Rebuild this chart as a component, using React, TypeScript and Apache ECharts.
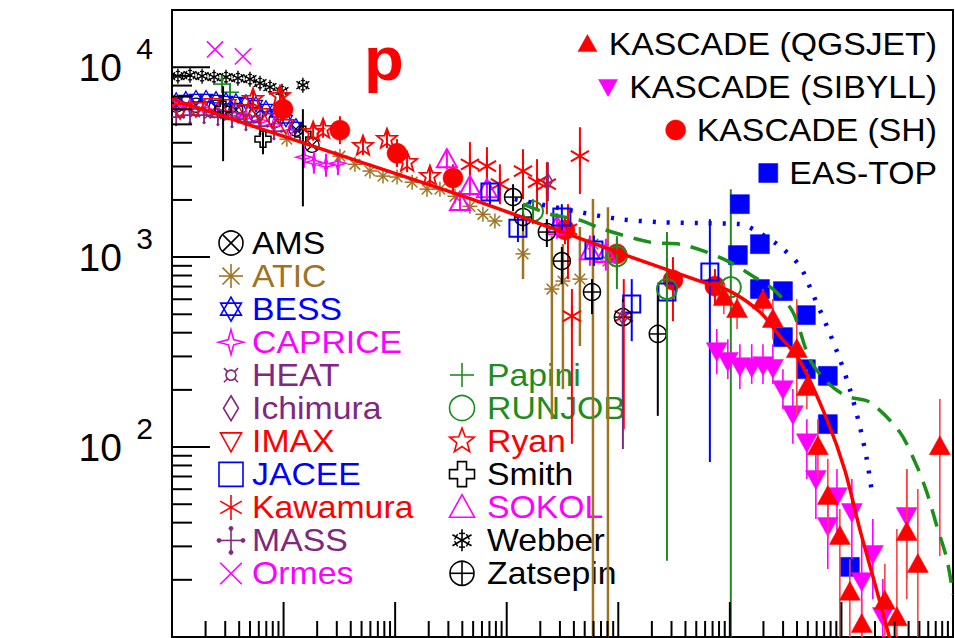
import React, { useEffect, useRef } from 'react';
import * as echarts from 'echarts';

const X_MIN = 10;
const X_MAX = 1e8;
const Y_MIN = 10;
const Y_MAX = 20000;
const FONT = '"Liberation Sans", Arial, Helvetica, sans-serif';

type Pt = number[]; // [E (GeV), flux*E^2.5, lower, upper]

const webber: Pt[] = [[11.3, 8970], [14.5, 9080], [18.6, 8970], [23.8, 8860], [30.5, 8860], [39.0, 8750], [50, 8650], [61.5, 8240], [75.5, 7850], [96.8, 7480], [149, 8040]];
const ormes: Pt[] = [[24.3, 12400], [43.3, 11400]];
const papini: Pt[] = [[28.1, 8150, 7300, 9000], [33.1, 7380, 6600, 8200]];
const ams: Pt[] = [[10.9, 6310], [16.4, 6310], [24.8, 6150], [37.4, 5940], [56.6, 5660], [85.5, 5260], [129, 4720], [180, 3880]];
const bess: Pt[] = [[10.9, 6700], [13.3, 6790], [16.4, 6880], [20.2, 6880], [24.8, 6790], [30.5, 6700], [37.4, 6620], [46.0, 6540], [56.6, 6380], [69.5, 6080], [85.5, 5720], [105, 5320], [129, 4890]];
const caprice: Pt[] = [[10.9, 6150], [14.5, 6150], [19.4, 6010], [25.8, 5860], [34.5, 5660], [46.0, 5460], [61.5, 5200], [82.0, 4950], [114, 4600], [152, 3360, 2950, 3800], [187, 3160, 2750, 3600], [240, 3050, 2650, 3500], [307, 3120, 2700, 3550]];
const heat: Pt[] = [[11.8, 5800], [16.1, 5800], [21.9, 5720], [29.9, 5660], [40.7, 5520], [55.5, 5320]];
const mass: Pt[] = [[10.9, 5460], [14.5, 5590], [19.4, 5590], [25.8, 5460], [34.5, 5320], [46.0, 5140], [61.5, 4890], [82.0, 4600]];
const imax: Pt[] = [[11.8, 5860], [16.4, 6010], [22.8, 6310], [31.8, 6230], [46.0, 5860], [61.5, 5590], [78.7, 5260], [105, 4890]];
const smith: Pt[] = [[28.7, 6010, 3200, 7940], [65.4, 4180, 3480, 4550], [149, 4440, 1850, 6010]];
const ryan: Pt[] = [[53.2, 6790, 6100, 7500], [92.9, 7030, 6300, 7800], [184, 4550, 4100, 5050], [226, 4720, 4250, 5250], [515, 3840, 3450, 4250], [845, 4180, 3750, 4650], [1280, 3160, 2800, 3550], [2051, 2670, 2350, 3000]];
const kascadeSH: Pt[] = [[98.9, 6010, 5200, 7210], [320, 4660, 3930, 5520], [1040, 3520, 2980, 4180], [3300, 2610, 2150, 3080], [3.33e4, 1390, 1170, 1620], [9.72e4, 1040, 844, 1245], [3.09e5, 757, 460, 1000], [7.35e5, 703, 566, 865]];
const atic: Pt[] = [[107, 4180], [320, 3400], [436, 3080], [595, 2840], [778, 2670], [1040, 2640], [1420, 2480], [1930, 2280], [2520, 2280], [3440, 2090], [4680, 1850], [6120, 1680], [7840, 1550], [1.40e4, 1040, 766, 1585], [2.54e4, 679, 140, 1290], [3.19e4, 748, 202, 1170], [4.53e4, 766, 340, 1440], [5.93e4, 1170, 5, 2020], [8.08e4, 953, 5, 1830]];
const kawamura: Pt[] = [[4680, 3080, 2280, 4030], [6650, 3010, 2280, 3790], [8690, 2420, 1900, 3080], [1.40e4, 2840, 2020, 3700], [1.87e4, 2480, 1790, 3280], [2.29e4, 2420, 1680, 3160], [3.54e4, 1400, 766, 1900], [4.53e4, 3400, 2150, 4830], [3.84e4, 489, 104, 679], [1.12e5, 489, 124, 766]];
const sokol: Pt[] = [[2910, 3280, 2900, 3700], [4680, 2370, 2100, 2650], [3810, 1950, 1750, 2200], [6650, 2280, 2000, 2600], [2.82e4, 1455, 1250, 1700], [5.57e4, 1075, 900, 1300], [7.74e4, 1040, 850, 1250]];
const jacee: Pt[] = [[7070, 2200, 1900, 2500], [1.26e4, 1420, 1200, 1650], [3.12e4, 1625, 1350, 1900], [6.05e4, 1090, 900, 1300], [1.32e5, 566, 361, 766], [2.73e5, 655, 290, 976], [6.62e5, 834, 83.4, 1585]];
const zatsepin: Pt[] = [[1.14e4, 2070, 1745, 2420], [1.40e4, 1625, 1370, 1900], [2.29e4, 1355, 1130, 1585], [3.12e4, 953, 720, 1130], [5.81e4, 655, 501, 766], [1.10e5, 483, 158, 601], [2.26e5, 394, 146, 655]];
const runjob: Pt[] = [[1.72e4, 1745, 1490, 2020], [9.72e4, 1010, 679, 1290], [2.73e5, 679, 25.2, 1355], [1.02e6, 695, 5, 2280]];
const ichimura: Pt[] = [[2.34e4, 2510, 1970, 3160], [1.10e5, 483, 97.6, 580]];
const easTop: Pt[] = [[1.23e6, 1900], [1.86e6, 1170], [1.18e6, 1025], [1.86e6, 679], [2.99e6, 662], [4.80e6, 495], [2.99e6, 379], [4.80e6, 257], [7.55e6, 237], [7.55e6, 132], [1.19e7, 23.4]];
const kascadeSibyll: Pt[] = [[7.64e5, 320, 242, 418], [9.59e5, 284, 228, 370], [1.23e6, 267, 202, 348], [1.57e6, 264, 215, 348], [1.98e6, 270, 215, 348], [2.43e6, 261, 215, 348], [2.99e6, 202, 158, 257], [3.67e6, 149, 104, 202], [4.90e6, 106, 67.9, 140], [5.90e6, 67.9, 41.8, 97.6], [7.55e6, 38.4, 22.8, 60.1], [9.12e6, 55.2, 32.8, 76.6], [1.24e7, 45.5, 25.7, 67.9], [1.52e7, 19.7, 5, 32.8], [1.91e7, 27.4, 15.8, 41.8], [2.35e7, 12.9, 5, 20.2], [3.85e7, 43.4, 20.2, 76.6]];
const kascadeQgsjet: Pt[] = [[8.83e5, 615, 501, 721], [1.16e6, 532, 418, 639], [1.98e6, 594, 501, 679], [2.43e6, 472, 370, 601], [3.98e6, 328, 146, 601], [4.90e6, 207, 158, 257], [6.15e6, 101, 67.9, 140], [7.55e6, 55.2, 32.8, 86.5], [9.68e6, 34.0, 9.7, 47.2], [1.19e7, 17.3, 5, 25.7], [1.52e7, 11.7, 5, 15.8], [2.45e7, 15.5, 5, 24.3], [3.14e7, 12.7, 5, 37.0], [3.85e7, 35.7, 15.8, 76.6], [4.84e7, 24.2, 5, 60.1], [7.62e7, 101, 26.7, 179]];

const polyGonato: Pt[] = [[10, 6790], [320, 3440], [5750, 1950], [1.03e5, 1050], [5.38e5, 748], [1e6, 662], [1.86e6, 514], [2.8e6, 384], [4.24e6, 284], [7.4e6, 140], [1.07e7, 76], [1.46e7, 37], [2.0e7, 19], [2.72e7, 9.75]];
const modelDotted: Pt[] = [[1.18e4, 2020], [4.53e4, 1725], [1.03e5, 1585], [2.36e5, 1528], [5.38e5, 1510], [1.23e6, 1492], [1.86e6, 1337], [2.8e6, 1142], [4.24e6, 897], [5.54e6, 639], [7.4e6, 433], [9.68e6, 290], [1.19e7, 202], [1.46e7, 129], [1.69e7, 86], [1.87e7, 58.6]];
const modelDashed: Pt[] = [[1.40e4, 1901], [2.44e4, 1683], [4.53e4, 1566], [7.28e4, 1403], [1.92e5, 1199], [3.56e5, 1170], [6.22e5, 1062], [1e6, 941], [1.61e6, 794], [2.43e6, 679], [3.67e6, 514], [5.21e6, 290], [7.4e6, 220], [1.12e7, 185], [1.8e7, 172], [3.33e7, 120], [4.74e7, 79.4], [5.82e7, 57.9], [7.16e7, 38.4], [8.8e7, 25.8], [1e8, 16.8]];

const legendLeft = ['AMS', 'ATIC', 'BESS', 'CAPRICE', 'HEAT', 'Ichimura', 'IMAX', 'JACEE', 'Kawamura', 'MASS', 'Ormes'];
const legendMid = ['Papini', 'RUNJOB', 'Ryan', 'Smith', 'SOKOL', 'Webber', 'Zatsepin'];
const legendRight = ['KASCADE (QGSJET)', 'KASCADE (SIBYLL)', 'KASCADE (SH)', 'EAS-TOP'];

const COL = {
  black: '#000000', brown: '#9C7424', blue: '#0000FF', magenta: '#FF00FF',
  purple: '#80287F', red: '#FF0000', green: '#1E8C1E',
};

interface Exp { name: string; data: Pt[]; kind: string; color: string; size: number; lw: number; legSize: number; bar?: string; barW?: number }

const experiments: Exp[] = [
  { name: 'Webber', data: webber, kind: 'snow', color: COL.black, size: 15, lw: 1.4, legSize: 22 },
  { name: 'Ormes', data: ormes, kind: 'x', color: COL.magenta, size: 18, lw: 1.6, legSize: 24 },
  { name: 'Papini', data: papini, kind: 'plus', color: COL.green, size: 18, lw: 1.6, legSize: 24 },
  { name: 'AMS', data: ams, kind: 'circx', color: COL.black, size: 14, lw: 1.3, legSize: 24 },
  { name: 'BESS', data: bess, kind: 'hexagram', color: COL.blue, size: 15, lw: 1.3, legSize: 24 },
  { name: 'CAPRICE', data: caprice, kind: 'star4', color: COL.magenta, size: 16, lw: 1.4, legSize: 25 },
  { name: 'HEAT', data: heat, kind: 'currency', color: COL.purple, size: 14, lw: 1.6, legSize: 20 },
  { name: 'MASS', data: mass, kind: 'cross4', color: COL.purple, size: 15, lw: 1.8, legSize: 24 },
  { name: 'IMAX', data: imax, kind: 'tridown', color: COL.red, size: 16, lw: 1.5, legSize: 21 },
  { name: 'Smith', data: smith, kind: 'greek', color: COL.black, size: 16, lw: 1.5, legSize: 25 },
  { name: 'Ryan', data: ryan, kind: 'star5', color: COL.red, size: 21, lw: 1.8, legSize: 26 },
  { name: 'KASCADE (SH)', data: kascadeSH, kind: 'circleF', color: COL.red, size: 20, lw: 1, legSize: 20 },
  { name: 'ATIC', data: atic, kind: 'ast8', color: COL.brown, size: 15, lw: 1.5, legSize: 24, barW: 2.5 },
  { name: 'Kawamura', data: kawamura, kind: 'ast6', color: COL.red, size: 21, lw: 2, legSize: 25 },
  { name: 'SOKOL', data: sokol, kind: 'triup', color: COL.magenta, size: 20, lw: 2, legSize: 25 },
  { name: 'JACEE', data: jacee, kind: 'square', color: COL.blue, size: 17, lw: 2, legSize: 24 },
  { name: 'Zatsepin', data: zatsepin, kind: 'circplus', color: COL.black, size: 17, lw: 1.5, legSize: 24 },
  { name: 'RUNJOB', data: runjob, kind: 'circle', color: COL.green, size: 20, lw: 2, legSize: 25 },
  { name: 'Ichimura', data: ichimura, kind: 'diamond', color: COL.purple, size: 15, lw: 1.5, legSize: 25 },
  { name: 'EAS-TOP', data: easTop, kind: 'squareF', color: COL.blue, size: 19, lw: 1, legSize: 19 },
  { name: 'KASCADE (SIBYLL)', data: kascadeSibyll, kind: 'tridownF', color: COL.magenta, size: 21, lw: 1, legSize: 19, barW: 1.6 },
  { name: 'KASCADE (QGSJET)', data: kascadeQgsjet, kind: 'triupF', color: COL.red, size: 21, lw: 1, legSize: 19, bar: '#FF4040', barW: 1.6 },
];

function iconShapes(kind: string, cx: number, cy: number, s: number, c: string, lw: number): any[] {
  const r = s / 2;
  const st = { stroke: c, lineWidth: lw, fill: 'none' };
  const fl = { fill: c, stroke: c, lineWidth: 0.5 };
  const L = (x1: number, y1: number, x2: number, y2: number, w = lw) => ({
    type: 'line', shape: { x1: cx + x1, y1: cy + y1, x2: cx + x2, y2: cy + y2 }, style: { stroke: c, lineWidth: w },
  });
  const poly = (pts: number[][], filled = false) => ({
    type: 'polygon', shape: { points: pts.map(([x, y]) => [cx + x, cy + y]) }, style: filled ? fl : st,
  });
  const starPts = (n: number, ro: number, ri: number, rot = -90) => {
    const pts: number[][] = [];
    for (let i = 0; i < 2 * n; i++) {
      const a = ((rot + (i * 180) / n) * Math.PI) / 180;
      const rr = i % 2 ? ri : ro;
      pts.push([rr * Math.cos(a), rr * Math.sin(a)]);
    }
    return pts;
  };
  const ray = (deg: number, len: number) => {
    const a = (deg * Math.PI) / 180;
    return L(-len * Math.cos(a), -len * Math.sin(a), len * Math.cos(a), len * Math.sin(a));
  };
  const circ = (rr: number, filled = false) => ({ type: 'circle', shape: { cx, cy, r: rr }, style: filled ? fl : st });
  switch (kind) {
    case 'circx': { const d = r * 0.7; return [circ(r), L(-d, -d, d, d), L(-d, d, d, -d)]; }
    case 'circplus': return [circ(r), L(-r, 0, r, 0), L(0, -r, 0, r)];
    case 'circle': return [circ(r)];
    case 'circleF': return [circ(r, true)];
    case 'square': return [{ type: 'rect', shape: { x: cx - r, y: cy - r, width: s, height: s }, style: st }];
    case 'squareF': return [{ type: 'rect', shape: { x: cx - r, y: cy - r, width: s, height: s }, style: fl }];
    case 'triup': return [poly([[0, -r], [r, r * 0.8], [-r, r * 0.8]])];
    case 'triupF': return [poly([[0, -r], [r, r * 0.8], [-r, r * 0.8]], true)];
    case 'tridown': return [poly([[0, r], [r, -r * 0.8], [-r, -r * 0.8]])];
    case 'tridownF': return [poly([[0, r], [r, -r * 0.8], [-r, -r * 0.8]], true)];
    case 'diamond': return [poly([[0, -r], [r * 0.6, 0], [0, r], [-r * 0.6, 0]])];
    case 'star5': return [poly(starPts(5, r, r * 0.42))];
    case 'star4': return [poly(starPts(4, r, r * 0.3))];
    case 'hexagram': {
      const t1: number[][] = []; const t2: number[][] = [];
      for (let i = 0; i < 3; i++) {
        const a1 = ((-90 + i * 120) * Math.PI) / 180; const a2 = ((90 + i * 120) * Math.PI) / 180;
        t1.push([r * Math.cos(a1), r * Math.sin(a1)]); t2.push([r * Math.cos(a2), r * Math.sin(a2)]);
      }
      return [poly(t1), poly(t2)];
    }
    case 'currency': {
      const out = [circ(r * 0.5)];
      for (const d of [45, 135, 225, 315]) {
        const a = (d * Math.PI) / 180;
        out.push(L(r * 0.5 * Math.cos(a), r * 0.5 * Math.sin(a), r * Math.cos(a), r * Math.sin(a)) as any);
      }
      return out;
    }
    case 'cross4': {
      const dr = Math.max(1.2, s * 0.09);
      return [L(-r, 0, r, 0), L(0, -r, 0, r),
        { type: 'circle', shape: { cx: cx - r, cy, r: dr }, style: fl },
        { type: 'circle', shape: { cx: cx + r, cy, r: dr }, style: fl },
        { type: 'circle', shape: { cx, cy: cy - r, r: dr }, style: fl },
        { type: 'circle', shape: { cx, cy: cy + r, r: dr }, style: fl }];
    }
    case 'x': { const d = r * 0.9; return [L(-d, -d, d, d), L(-d, d, d, -d)]; }
    case 'plus': return [L(-r, 0, r, 0), L(0, -r, 0, r)];
    case 'greek': {
      const a = r * 0.36;
      return [poly([[-a, -r], [a, -r], [a, -a], [r, -a], [r, a], [a, a], [a, r], [-a, r], [-a, a], [-r, a], [-r, -a], [-a, -a]])];
    }
    case 'ast8': return [ray(0, r), ray(45, r), ray(90, r), ray(135, r)];
    case 'ast6': return [ray(90, r), ray(30, r), ray(150, r)];
    case 'snow': {
      const out: any[] = [ray(90, r), ray(30, r), ray(150, r)];
      for (let k = 0; k < 6; k++) {
        const a = ((90 + k * 60) * Math.PI) / 180;
        const px = 0.62 * r * Math.cos(a); const py = 0.62 * r * Math.sin(a);
        const qx = -Math.sin(a) * r * 0.28; const qy = Math.cos(a) * r * 0.28;
        out.push(L(px - qx, py - qy, px + qx, py + qy, lw * 0.9));
      }
      return out;
    }
    default: return [circ(r)];
  }
}

function buildOption() {
  const xTicks: number[][] = [];
  for (let d = 1; d <= 7; d++) {
    for (let m = 1; m <= 9; m++) {
      const v = m * Math.pow(10, d);
      if (v <= X_MIN * 1.0001 || v >= X_MAX) continue;
      xTicks.push([v, Y_MIN, 0, m === 1 ? 35 : 16]);
    }
  }
  for (let d = 1; d <= 4; d++) {
    for (let m = 1; m <= 9; m++) {
      const v = m * Math.pow(10, d);
      if (v <= Y_MIN * 1.0001 || v >= Y_MAX) continue;
      xTicks.push([X_MIN, v, 1, m === 1 ? 38 : 20]);
    }
  }

  const isDecade = (v: number) => {
    const l = Math.log10(v); const r = Math.round(l);
    return Math.abs(l - r) < 1e-6 && r >= 2 ? r : null;
  };

  const series: any[] = [];
  series.push({
    type: 'custom', name: 'ticks', silent: true, clip: false, z: 5,
    data: xTicks, encode: { x: 0, y: 1 },
    renderItem: (_p: any, api: any) => {
      const pt = api.coord([api.value(0), api.value(1)]);
      const len = api.value(3);
      if (api.value(2) === 0) {
        return { type: 'line', shape: { x1: pt[0], y1: pt[1], x2: pt[0], y2: pt[1] - len }, style: { stroke: '#000', lineWidth: 2 } };
      }
      return { type: 'line', shape: { x1: pt[0], y1: pt[1], x2: pt[0] + len, y2: pt[1] }, style: { stroke: '#000', lineWidth: 2 } };
    },
  });

  for (const ex of experiments) {
    series.push({
      type: 'custom', name: ex.name, silent: true, clip: true,
      dimensions: ['E', 'F', 'lo', 'hi'],
      encode: { x: 0, y: 1 },
      data: ex.data.map((d) => (d.length >= 4 ? d : [d[0], d[1], 0, 0])),
      renderItem: (_p: any, api: any) => {
        const e = api.value(0); const f = api.value(1); const lo = api.value(2); const hi = api.value(3);
        const p = api.coord([e, f]);
        const ch: any[] = [];
        if (lo > 0 && hi > 0) {
          const a = api.coord([e, lo]); const b = api.coord([e, hi]);
          ch.push({ type: 'line', shape: { x1: p[0], y1: a[1], x2: p[0], y2: b[1] }, style: { stroke: ex.bar || ex.color, lineWidth: ex.barW || 2 } });
        }
        for (const s of iconShapes(ex.kind, p[0], p[1], ex.size, ex.color, ex.lw)) ch.push(s);
        return { type: 'group', children: ch };
      },
    });
    if (ex.name === 'Ichimura') {
      series.push({ type: 'line', name: 'dotted', data: modelDotted, symbol: 'none', smooth: 0.3, silent: true,
        lineStyle: { color: '#0000FF', width: 4.5, type: [3, 11] } });
      series.push({ type: 'line', name: 'dashed', data: modelDashed, symbol: 'none', smooth: 0.3, silent: true,
        lineStyle: { color: '#1A8F1A', width: 3.5, type: [18, 11] } });
    }
  }
  series.push({ type: 'line', name: 'poly-gonato', data: polyGonato, symbol: 'none', smooth: 0.3, silent: true,
    lineStyle: { color: '#FF0000', width: 3.5 } });

  // legend graphics
  const SX = 1.09;
  const LFONT = `31px ${FONT}`;
  const graphics: any[] = [];
  const byName: Record<string, Exp> = {};
  experiments.forEach((e) => { byName[e.name] = e; });
  const textEl = (x: number, y: number, text: string, fill: string, align: string, font = LFONT, sx = SX) => ({
    type: 'text', x, y, scaleX: sx, silent: true,
    style: { x: 0, y: 0, text, fill, font, align, textAlign: align, verticalAlign: 'middle', textVerticalAlign: 'middle' },
  });
  legendLeft.forEach((n, i) => {
    const e = byName[n]; const y = 243 + i * 33.05;
    iconShapes(e.kind, 231, y, e.legSize, e.color, 1.6).forEach((g) => graphics.push(g));
    graphics.push(textEl(252, y, n, e.color, 'left'));
  });
  legendMid.forEach((n, i) => {
    const e = byName[n]; const y = 375 + i * 33.05;
    iconShapes(e.kind, 462, y, e.legSize, e.color, 1.6).forEach((g) => graphics.push(g));
    graphics.push(textEl(487, y, n, e.color, 'left'));
  });
  let ctx: CanvasRenderingContext2D | null = null;
  try { ctx = document.createElement('canvas').getContext('2d'); } catch (err) { ctx = null; }
  legendRight.forEach((n, i) => {
    const e = byName[n]; const y = 44 + i * 43;
    let w = n.length * 18;
    if (ctx) { ctx.font = LFONT; w = ctx.measureText(n).width * SX; }
    iconShapes(e.kind, 937 - w - 21, y, e.legSize, e.color, 1).forEach((g) => graphics.push(g));
    graphics.push(textEl(937, y, n, '#000000', 'right'));
  });
  graphics.push(textEl(364, 58, 'p', '#FF0000', 'left', `bold 62px ${FONT}`, 1.05));

  const yBase = {
    type: 'log', logBase: 10, min: Y_MIN, max: Y_MAX,
    axisTick: { show: false }, splitLine: { show: false }, minorTick: { show: false }, minorSplitLine: { show: false },
  };

  return {
    animation: false,
    backgroundColor: '#ffffff',
    grid: { left: 172, right: 2, top: 10, bottom: 1, containLabel: false, outerBoundsMode: 'none',
      show: true, borderColor: '#000', borderWidth: 2, backgroundColor: 'transparent' },
    xAxis: {
      type: 'log', logBase: 10, min: X_MIN, max: X_MAX,
      axisLine: { show: true, onZero: false, lineStyle: { color: '#000', width: 2 } },
      axisTick: { show: false }, axisLabel: { show: false }, splitLine: { show: false }, minorTick: { show: false },
    },
    yAxis: [
      { ...yBase, position: 'left',
        axisLine: { show: true, onZero: false, lineStyle: { color: '#000', width: 2 } },
        axisLabel: { show: true, margin: 50, color: '#000', fontSize: 39, fontFamily: FONT,
          formatter: (v: number) => (isDecade(v) !== null ? '10' : '') } },
      { ...yBase, position: 'left', offset: 0,
        axisLine: { show: false },
        axisLabel: { show: true, margin: 19, color: '#000', fontSize: 30, fontFamily: FONT, verticalAlign: 'bottom', lineHeight: 37,
          formatter: (v: number) => { const r = isDecade(v); return r !== null ? String(r) : ''; } } },
    ],
    graphic: { elements: graphics },
    series,
  };
}

export default function App() {
  const ref = useRef<HTMLDivElement>(null);
  useEffect(() => {
    if (!ref.current) return;
    const chart = echarts.init(ref.current, null, { renderer: 'svg' });
    chart.setOption(buildOption() as any);
    return () => chart.dispose();
  }, []);
  return <div ref={ref} style={{ position: 'absolute', left: 0, top: 0, width: 955, height: 638, background: '#fff' }} />;
}
